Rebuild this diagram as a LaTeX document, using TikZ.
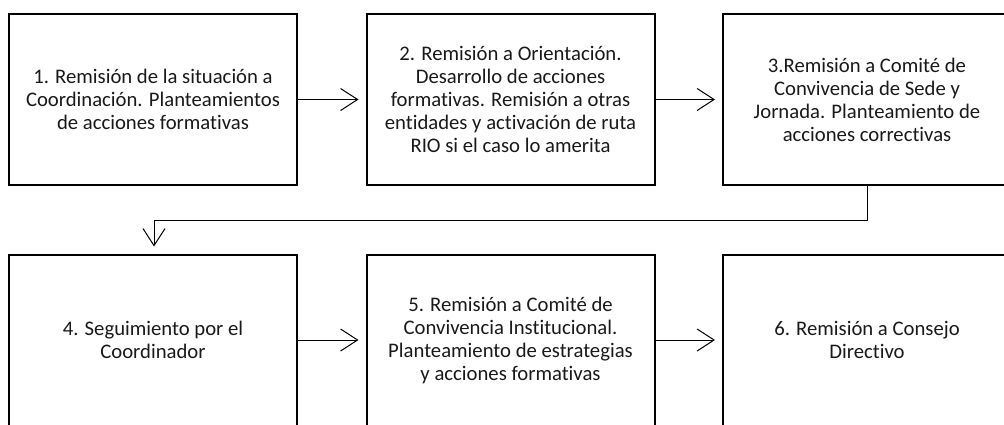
\documentclass[tikz,border=0pt]{standalone}
\usepackage{fontspec}
\setmainfont{Carlito}[Ligatures=NoCommon]
\usetikzlibrary{arrows.meta}
\begin{document}
\begin{tikzpicture}[x=1pt,y=-1pt,
  box/.style={draw=black,line width=2pt,minimum width=288pt,minimum height=171pt,
    align=center,inner sep=0pt,text=black!90,font=\fontsize{20.7pt}{23pt}\selectfont},
  conn/.style={draw=black,line width=1pt,-{Straight Barb[length=17pt,width=22pt,line width=1pt]},shorten >=7pt}]
\useasboundingbox (0,0) rectangle (1004,424);
\node[box] (b1) at (153,99.5) {1. Remisión de la situación a\\Coordinación. Planteamientos\\de acciones formativas};
\node[box] (b2) at (510.5,99.5) {2. Remisión a Orientación.\\Desarrollo de acciones\\formativas. Remisión a otras\\entidades y activación de ruta\\RIO si el caso lo amerita};
\node[box] (b3) at (867,99.5) {3.Remisión a Comité de\\Convivencia de Sede y\\Jornada. Planteamiento de\\acciones correctivas};
\node[box] (b4) at (153,340) {4. Seguimiento por el\\Coordinador};
\node[box] (b5) at (510.5,340) {5. Remisión a Comité de\\Convivencia Institucional.\\Planteamiento de estrategias\\y acciones formativas};
\node[box] (b6) at (867,340) {6. Remisión a Consejo\\Directivo};
\coordinate (c1) at (867,220);
\coordinate (c2) at (154,220);
\draw[conn] (b1.east) -- (b2.west);
\draw[conn] (b2.east) -- (b3.west);
\draw[conn] (b3.south) -- (c1) -- (c2) -- (b4.north -| c2);
\draw[conn] (b4.east) -- (b5.west);
\draw[conn] (b5.east) -- (b6.west);
\end{tikzpicture}
\end{document}
